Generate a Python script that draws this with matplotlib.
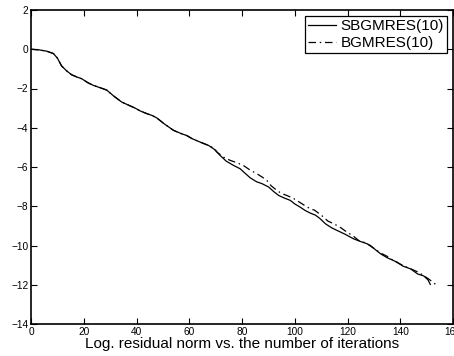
import matplotlib
matplotlib.use("Agg")
import matplotlib.pyplot as plt

# SBGMRES(10) data (iteration, log residual norm)
sb_x = [0, 3, 6, 8.5, 10, 11.6, 13.5, 15.4, 17.5, 19.2, 21.5, 23.6, 26, 28.7, 31.5, 34.4, 37, 39.5,
        41.5, 43.9, 46, 47.7, 50.5, 54, 57, 59.1, 61, 64.1, 67.3, 69.5, 71.7, 74, 76.8, 79.3, 81,
        83.1, 85.5, 87.6, 90.1, 92, 93.9, 96, 98.3, 100, 102.1, 104, 105.9, 107.8, 109.5, 111.6,
        114, 116, 119, 122.3, 125, 127.4, 130, 132.5, 135, 138.8, 141, 143.9, 146.6, 148.9, 150.5, 151.4]
sb_y = [0, -0.03, -0.1, -0.22, -0.45, -0.85, -1.1, -1.3, -1.42, -1.5, -1.7, -1.84, -1.95, -2.08,
        -2.4, -2.69, -2.85, -3.0, -3.15, -3.28, -3.38, -3.5, -3.8, -4.13, -4.3, -4.4, -4.55, -4.73,
        -4.9, -5.1, -5.41, -5.7, -5.92, -6.09, -6.3, -6.55, -6.75, -6.85, -7.02, -7.25, -7.45, -7.58,
        -7.7, -7.88, -8.05, -8.22, -8.35, -8.45, -8.62, -8.89, -9.1, -9.23, -9.42, -9.66, -9.8,
        -9.91, -10.15, -10.42, -10.62, -10.85, -11.05, -11.19, -11.45, -11.55, -11.75, -11.98]

# BGMRES(10) data
bg_x = [0, 3, 6, 8.5, 10, 11.6, 13.5, 15.4, 17.5, 19.2, 21.5, 23.6, 26, 28.7, 31.5, 34.4, 37, 39.5,
        41.5, 43.9, 46, 47.7, 50.5, 54, 57, 59.1, 61, 64.1, 67.3, 69.5, 70.5, 73, 75.5, 78, 80.5,
        83, 85.6, 87.5, 89.4, 91, 93.2, 95, 97, 99.5, 102.1, 104, 105.9, 107.5, 109.5, 110.9, 112.5,
        114.7, 117, 119.8, 122, 124.2, 126.5, 128.7, 130.5, 133.1, 135, 137.5, 140, 142.5, 144.5,
        146.9, 148.5, 150.7, 152.5, 153.9]
bg_y = [0, -0.03, -0.1, -0.22, -0.45, -0.85, -1.1, -1.3, -1.42, -1.5, -1.7, -1.84, -1.95, -2.08,
        -2.4, -2.69, -2.85, -3.0, -3.15, -3.28, -3.38, -3.5, -3.8, -4.13, -4.3, -4.4, -4.55, -4.73,
        -4.9, -5.05, -5.24, -5.5, -5.66, -5.78, -5.92, -6.15, -6.34, -6.5, -6.68, -6.95, -7.19,
        -7.35, -7.45, -7.6, -7.82, -7.98, -8.13, -8.2, -8.4, -8.55, -8.75, -8.89, -9.05, -9.32,
        -9.5, -9.74, -9.85, -10.0, -10.2, -10.42, -10.55, -10.77, -10.95, -11.11, -11.22, -11.36,
        -11.5, -11.7, -11.88, -12.04]

x_ticks = [0, 20, 40, 60, 80, 100, 120, 140, 160]
y_ticks = [-14, -12, -10, -8, -6, -4, -2, 0, 2]
labels = ["SBGMRES(10)", "BGMRES(10)"]
xlabel = "Log. residual norm vs. the number of iterations"

plt.rcParams['font.family'] = ['Liberation Sans', 'DejaVu Sans']

fig = plt.figure(figsize=(4.54, 3.56), dpi=100)
ax = fig.add_axes([31/454, 1 - 324/356, 422/454, 314/356])

ax.plot(sb_x, sb_y, color='black', lw=0.9, linestyle='-', label=labels[0])
ax.plot(bg_x, bg_y, color='black', lw=0.9, linestyle=(0, (6, 3, 1.2, 3)), label=labels[1])

ax.set_xlim(0, 160)
ax.set_ylim(-14, 2)
ax.set_xticks(x_ticks)
ax.set_yticks(y_ticks)
ax.set_xticklabels([str(t) for t in x_ticks])
ax.set_yticklabels([str(t).replace('-', '\u2212') for t in y_ticks])
ax.tick_params(direction='in', top=True, right=True, length=4, width=0.8,
               labelsize=7.3, pad=2)
for s in ax.spines.values():
    s.set_linewidth(1.2)

ax.set_xlabel(xlabel, fontsize=11, labelpad=0.5)

leg = ax.legend(loc='upper right', fontsize=11, frameon=True, fancybox=False,
                edgecolor='black', framealpha=1, handlelength=1.8, handletextpad=0.3,
                borderpad=0.2, labelspacing=0.2, borderaxespad=0.4)
leg.get_frame().set_linewidth(0.9)

fig.savefig("out.png", dpi=100)
